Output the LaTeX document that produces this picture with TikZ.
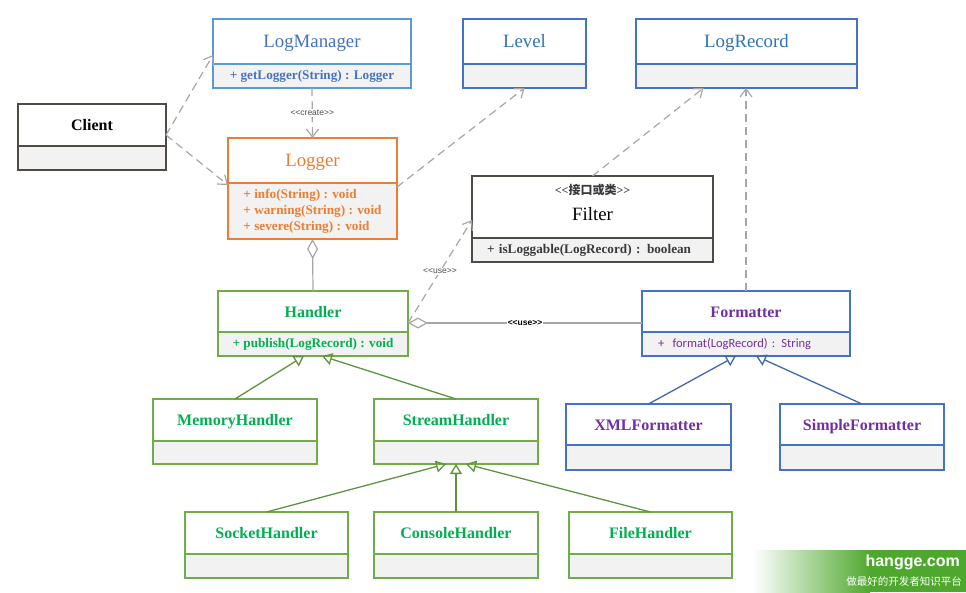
\documentclass[tikz,border=0pt]{standalone}
\usepackage{fontspec}
\setmainfont{Liberation Serif}
\newfontfamily\cjk{Noto Sans CJK SC}
\newfontfamily\calib{Carlito}
\newfontfamily\arialf{Liberation Sans}
\usetikzlibrary{arrows.meta}

\definecolor{bodygrey}{HTML}{F2F2F2}
\definecolor{linegrey}{HTML}{A6A6A6}
\definecolor{lmborder}{HTML}{5B9BD5}
\definecolor{lmtext}{HTML}{4472C4}
\definecolor{blueborder}{HTML}{4472C4}
\definecolor{leveltext}{HTML}{2E75B6}
\definecolor{darkborder}{HTML}{504A45}
\definecolor{filtertext}{HTML}{3A3A3A}
\definecolor{logorange}{HTML}{ED7D31}
\definecolor{greenborder}{HTML}{70AD47}
\definecolor{greentext}{HTML}{00B050}
\definecolor{purpletext}{HTML}{7030A0}
\definecolor{gengreen}{HTML}{5F9340}
\definecolor{genblue}{HTML}{3F68B0}
\definecolor{wmgreen}{HTML}{4FA82E}

\newcommand{\stl}{\textless\kern0pt\textless}
\newcommand{\str}{\textgreater\kern0pt\textgreater}
\newcommand{\regttl}{\fontsize{18.8}{20}\selectfont}
\newcommand{\boldttl}{\bfseries\fontsize{16}{18}\selectfont}

\tikzset{
  clshead/.style={draw, fill=white, line width=2.6pt, inner sep=1pt, outer sep=0pt, anchor=north west, align=center,
    text height=11.5pt, text depth=0pt},
  clsbody/.style={draw, fill=bodygrey, line width=2.6pt, inner sep=1pt, outer sep=0pt, anchor=north, align=left,
    font=\bfseries\fontsize{13.2}{16}\selectfont},
  lmcls/.style={draw=lmborder, text=lmtext},
  bluecls/.style={draw=blueborder, text=leveltext},
  darkcls/.style={draw=darkborder, text=black},
  logcls/.style={draw=logorange, text=logorange},
  hdlcls/.style={draw=greenborder, text=greentext},
  fmtcls/.style={draw=blueborder, text=purpletext},
  depend/.style={draw=linegrey, line width=1.2pt, dash pattern=on 8pt off 5pt,
    -{Straight Barb[length=8pt,width=12pt]}},
  aggr/.style={draw=linegrey, line width=1.2pt, {Diamond[open,length=20pt,width=11pt]}-},
  genhdl/.style={draw=gengreen, line width=1.3pt, -{Triangle[open,length=10pt,width=12pt]}},
  genfmt/.style={draw=genblue, line width=1.3pt, -{Triangle[open,length=10pt,width=12pt]}},
  stereo/.style={font=\arialf\fontsize{8.5}{9}\selectfont, fill=white, inner sep=1pt, text=darkborder},
}

% [body options]{name}{x,y}{width}{head height}{body height}{look}{title}{body}
\newcommand{\umlclass}[9][]{%
  \node[clshead, #7, minimum width=#4, minimum height=#5] (#2) at (#3) {#8};
  \node[clsbody, #7, minimum width=#4, minimum height=#6, #1] (#2-b) at (#2.south) {#9};}

\begin{document}
\begin{tikzpicture}[x=1pt,y=-1pt]
\useasboundingbox (0,0) rectangle (966,592);

% classes
\umlclass{LogManager}{213,19}{198pt}{45pt}{24pt}{lmcls}{\regttl LogManager}{+ getLogger(String) : Logger}
\umlclass{Level}{463,19}{123pt}{45pt}{24pt}{bluecls}{\regttl Level}{}
\umlclass{LogRecord}{636,19}{221pt}{45pt}{24pt}{bluecls}{\regttl LogRecord}{}
\umlclass{Client}{18,104}{148pt}{42pt}{24pt}{darkcls}{\boldttl Client}{}
\umlclass{Logger}{228,138}{169pt}{45pt}{56pt}{logcls}{\regttl Logger}{+ info(String) : void\\+ warning(String) : void\\+ severe(String) : void}
\umlclass[text width=211pt, inner xsep=15pt, text=filtertext]{Filter}{472,176}{241pt}{62pt}{24pt}{darkcls}{\raisebox{-8pt}{\regttl Filter}}{+ isLoggable(LogRecord) : boolean}
\node[font=\bfseries\fontsize{12}{14}\selectfont, text=filtertext, inner sep=0pt] (filtertag) at ([yshift=-14pt]Filter.north) {\stl{\cjk 接口或类}\str};
\umlclass{Handler}{218,291}{190pt}{41pt}{24pt}{hdlcls}{\boldttl Handler}{+ publish(LogRecord) : void}
\umlclass[text width=176pt, inner xsep=16pt, font=\calib\fontsize{12.5}{15}\selectfont]{Formatter}{642,291}{208pt}{41pt}{24pt}{fmtcls}{\boldttl Formatter}{+\ \ format(LogRecord) : String}
\umlclass{MemoryHandler}{153,399}{164pt}{42pt}{23pt}{hdlcls}{\boldttl MemoryHandler}{}
\umlclass{StreamHandler}{374,399}{164pt}{42pt}{23pt}{hdlcls}{\boldttl StreamHandler}{}
\umlclass{XMLFormatter}{566,404}{165pt}{41pt}{25pt}{fmtcls}{\boldttl XMLFormatter}{}
\umlclass{SimpleFormatter}{780,404}{164pt}{41pt}{25pt}{fmtcls}{\boldttl SimpleFormatter}{}
\umlclass{SocketHandler}{185,512}{163pt}{42pt}{24pt}{hdlcls}{\boldttl SocketHandler}{}
\umlclass{ConsoleHandler}{374,512}{164pt}{42pt}{24pt}{hdlcls}{\boldttl ConsoleHandler}{}
\umlclass{FileHandler}{569,512}{163pt}{42pt}{24pt}{hdlcls}{\boldttl FileHandler}{}

% dependencies
\draw[depend] ([yshift=-10pt]Client.east) -- ([yshift=-13.5pt]LogManager.west);
\draw[depend] ([yshift=-10pt]Client.east) -- ([yshift=-2pt]Logger.south west);
\draw[depend] (LogManager-b.south) -- node[stereo]{\stl create\str} (Logger.north);
\draw[depend] ([yshift=-4pt]Logger.south east) -- (Level-b.south);
\draw[depend] (Filter.north) -- ([xshift=-43pt]LogRecord-b.south);
\draw[depend] (Formatter.north) -- (Formatter.north |- LogRecord-b.south);

% aggregation
\coordinate (hdlr) at ([yshift=-11.5pt]Handler.east);
\draw[aggr] (Logger-b.south) -- (Handler.north);
\draw[aggr] (hdlr) -- node[stereo, text=black, font=\arialf\bfseries\fontsize{8.5}{9}\selectfont]{\stl use\str} (hdlr -| Formatter.west);
\draw[depend] (hdlr) -- node[stereo]{\stl use\str} ([yshift=-13pt]Filter.west);

% generalization
\draw[genhdl] (MemoryHandler.north) -- ([xshift=-9pt]Handler-b.south);
\draw[genhdl] (StreamHandler.north) -- ([xshift=9pt]Handler-b.south);
\draw[genhdl] (SocketHandler.north) -- ([xshift=-10pt]StreamHandler-b.south);
\draw[genhdl] (ConsoleHandler.north) -- (StreamHandler-b.south);
\draw[genhdl] (FileHandler.north) -- ([xshift=10pt]StreamHandler-b.south);
\draw[genfmt] (XMLFormatter.north) -- ([xshift=-10pt]Formatter-b.south);
\draw[genfmt] (SimpleFormatter.north) -- ([xshift=10pt]Formatter-b.south);

% watermark
\shade[left color=white, right color=wmgreen] (753,550) rectangle (870,592);
\fill[wmgreen] (869.5,550) rectangle (966,592);
\node[anchor=east, text=white, font=\arialf\bfseries\fontsize{16}{18}\selectfont, inner sep=0pt] (wmsite) at (960,562) {hangge.com};
\node[anchor=east, text=white, font=\cjk\fontsize{10.5}{12}\selectfont, inner sep=0pt] (wmslogan) at (962,582) {做最好的开发者知识平台};
\end{tikzpicture}
\end{document}
